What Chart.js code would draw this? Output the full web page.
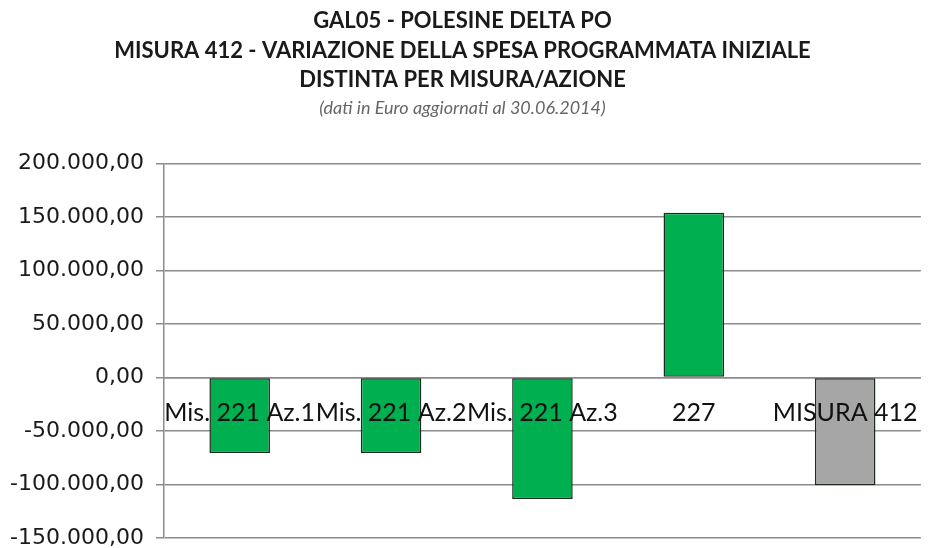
<!DOCTYPE html>
<html>
<head>
<meta charset="utf-8">
<script src="https://cdn.jsdelivr.net/npm/chart.js@4.4.1/dist/chart.umd.min.js"></script>
<style>
    html, body { margin: 0; padding: 0; background: #fff; }
    #wrap { width: 940px; height: 548px; position: relative; }
</style>
</head>
<body>
<div id="wrap"><canvas id="spesa-chart"></canvas></div>
<script>
const categories = ['Mis. 221 Az.1', 'Mis. 221 Az.2', 'Mis. 221 Az.3', '227', 'MISURA 412'];
const variazione = [-70500, -70500, -113500, 153800, -100700];
const barColors = ['#00b050', '#00b050', '#00b050', '#00b050', '#a6a6a6'];
const titleLines = [
    'GAL05 - POLESINE DELTA PO',
    'MISURA 412 - VARIAZIONE DELLA SPESA PROGRAMMATA INIZIALE',
    'DISTINTA PER MISURA/AZIONE'
];
const subtitleText = '(dati in Euro aggiornati al 30.06.2014)';
const yMin = -150000;
const yMax = 200000;
const yStep = 50000;

// 200000 -> "200.000,00"
function formatEuro(v) {
    const neg = v < 0;
    const s = Math.abs(Math.round(v)).toString().replace(/\B(?=(\d{3})+(?!\d))/g, '.');
    return (neg ? '-' : '') + s + ',00';
}

const ctx = document.getElementById('spesa-chart').getContext('2d');
const chart = new Chart(ctx, {
    type: 'bar',
    data: {
        labels: categories,
        datasets: [{
            label: 'Variazione',
            data: variazione,
            backgroundColor: barColors,
            borderColor: '#1f2a1f',
            borderWidth: 1.5,
            borderSkipped: false,
            barPercentage: 0.4,
            categoryPercentage: 1
        }]
    },
    options: {
        responsive: true,
        maintainAspectRatio: false,
        animation: false,
        layout: {
            padding: { left: 0, right: 15, top: 0, bottom: 10 }
        },
        plugins: {
            legend: { display: false },
            tooltip: { enabled: false },
            title: {
                display: true,
                text: titleLines,
                color: '#1a1a1a',
                font: { family: 'Lato', size: 22, weight: 'bold', lineHeight: 1.35 },
                padding: { top: 6, bottom: 0 }
            },
            subtitle: {
                display: true,
                text: subtitleText,
                color: '#666',
                font: { family: 'Lato', size: 18, style: 'italic', lineHeight: 1.4 },
                padding: { top: 0, bottom: 43 }
            }
        },
        scales: {
            x: {
                position: { y: 0 },
                grid: { display: false, drawTicks: false },
                border: { display: true, color: '#8c8c8c', width: 1.5 },
                ticks: {
                    z: 1,
                    color: '#111',
                    padding: 21,
                    maxRotation: 0,
                    autoSkip: false,
                    font: { family: 'Lato', size: 25 }
                }
            },
            y: {
                min: yMin,
                max: yMax,
                afterFit: function (scale) {
                    scale.width = 164;
                    scale.paddingTop = 0;
                    scale.paddingBottom = 0;
                },
                grid: {
                    color: '#8c8c8c',
                    lineWidth: 1.5,
                    tickLength: 8
                },
                border: { color: '#8c8c8c', width: 1.5 },
                ticks: {
                    stepSize: yStep,
                    color: '#1a1a1a',
                    padding: 12,
                    font: { family: 'DejaVu Sans', size: 22 },
                    callback: function (value) { return formatEuro(value); }
                }
            }
        }
    }
});
</script>
</body>
</html>
